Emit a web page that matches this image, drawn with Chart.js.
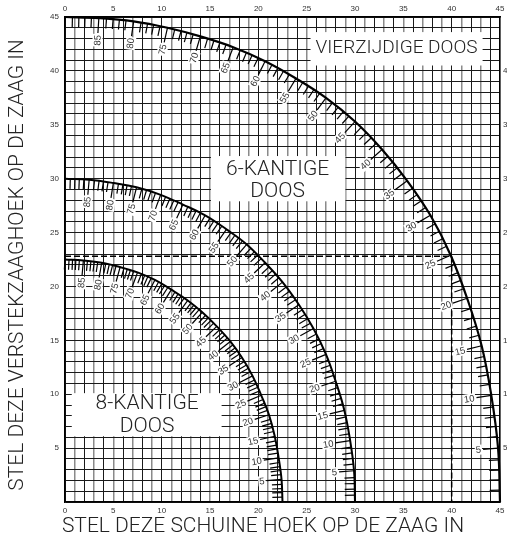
<!DOCTYPE html>
<html><head><meta charset="utf-8">
<script src="https://cdn.jsdelivr.net/npm/chart.js@4.4.1/dist/chart.umd.min.js"></script>
<style>html,body{margin:0;padding:0;background:#fff;overflow:hidden;} #wrap{width:520px;height:544px;position:relative;}</style>
</head><body><div id="wrap"><canvas id="c"></canvas></div>
<script>
// Slope angle of the box side at each marked point (labels along the arcs)
const SLOPE_ANGLES = [90,85,80,75,70,65,60,55,50,45,40,35,30,25,20,15,10,5,0];
// 4-sided box (VIERZIJDIGE DOOS): bevel (x) and miter (y) at each slope angle
const BEVEL_4 = [0,3.5,7.1,10.6,14.0,17.4,20.7,23.9,27.0,30.0,32.8,35.4,37.8,39.9,41.6,43.1,44.1,44.8,45];
const MITER_4 = [45,44.9,44.6,44.0,43.2,42.2,40.9,39.3,37.5,35.3,32.7,29.8,26.6,22.9,18.9,14.5,9.9,5.0,0];
// 6-sided box (6-KANTIGE DOOS)
const BEVEL_6 = [0,2.5,5.0,7.4,9.9,12.2,14.5,16.7,18.8,20.7,22.5,24.2,25.7,27.0,28.0,28.9,29.5,29.9,30];
const MITER_6 = [30,29.9,29.6,29.2,28.5,27.6,26.6,25.3,23.9,22.2,20.4,18.3,16.1,13.7,11.2,8.5,5.7,2.9,0];
// 8-sided box (8-KANTIGE DOOS)
const BEVEL_8 = [0,1.9,3.8,5.7,7.5,9.3,11.0,12.7,14.2,15.7,17.1,18.3,19.4,20.3,21.1,21.7,22.1,22.4,22.5];
const MITER_8 = [22.5,22.4,22.2,21.8,21.3,20.6,19.7,18.7,17.6,16.3,14.9,13.4,11.7,9.9,8.1,6.1,4.1,2.1,0];
// dashed example reading
const EXAMPLE_BEVEL = 40;
const EXAMPLE_MITER = 22.8;
// axis tick labels
const AXIS_LABELS = [0,5,10,15,20,25,30,35,40,45];
const Y_LEFT_LABELS = [5,10,15,20,25,30,35,40,45];
const Y_RIGHT_LABELS = [5,10,15,20,25,30,35,40];
const X_TITLE = 'STEL DEZE SCHUINE HOEK OP DE ZAAG IN';
const Y_TITLE = 'STEL DEZE VERSTEKZAAGHOEK OP DE ZAAG IN';

const FONT = '"Liberation Sans", Arial, Helvetica, sans-serif';
const BIG = 'Roboto, "Liberation Sans", Arial, sans-serif';
const toPts = (xs, ys) => xs.map((v, i) => ({x: v, y: ys[i]}));

const arcStyle = {showLine: true, pointRadius: 0, borderColor: '#000', borderWidth: 2, tension: 0.4, clip: false, fill: false};

const boxes = [
  {x0: 25.4, x1: 43.2, y0: 43.6, y1: 40.5, size: 19, lines: [['VIERZIJDIGE DOOS', 34.3, 42.1]]},
  {x0: 15.1, x1: 29.0, y0: 32.1, y1: 27.9, size: 21, lines: [['6-KANTIGE', 22.0, 30.8], ['DOOS', 22.0, 28.75]]},
  {x0: 0.7, x1: 16.2, y0: 10.1, y1: 6.1, size: 21, lines: [['8-KANTIGE', 8.5, 9.1], ['DOOS', 8.5, 6.95]]}
];

const decor = {
  id: 'decor',
  beforeDatasetsDraw(chart) {
    const ctx = chart.ctx, xs = chart.scales.x, ys = chart.scales.y;
    ctx.save();
    boxes.forEach(b => {
      const X0 = xs.getPixelForValue(b.x0), X1 = xs.getPixelForValue(b.x1);
      const Y0 = ys.getPixelForValue(b.y0), Y1 = ys.getPixelForValue(b.y1);
      ctx.fillStyle = '#fff';
      ctx.fillRect(X0, Y0, X1 - X0, Y1 - Y0);
      ctx.fillStyle = '#222';
      ctx.font = '300 ' + b.size + 'px ' + BIG;
      ctx.textAlign = 'center';
      ctx.textBaseline = 'middle';
      b.lines.forEach(l => ctx.fillText(l[0], xs.getPixelForValue(l[1]), ys.getPixelForValue(l[2])));
    });
    ctx.restore();
  },
  afterDatasetsDraw(chart) {
    const ctx = chart.ctx, xs = chart.scales.x, ys = chart.scales.y;
    const ox = xs.getPixelForValue(0), oy = ys.getPixelForValue(0);
    const bez = (a, b, c, d, t) => { const u = 1 - t; return u*u*u*a + 3*u*u*t*b + 3*u*t*t*c + t*t*t*d; };
    const dbez = (a, b, c, d, t) => { const u = 1 - t; return 3*u*u*(b-a) + 6*u*t*(c-b) + 3*t*t*(d-c); };
    const inward = (px, py, tx, ty) => {
      let nx = -ty, ny = tx; const L = Math.hypot(nx, ny) || 1; nx /= L; ny /= L;
      if (nx*(ox-px) + ny*(oy-py) < 0) { nx = -nx; ny = -ny; }
      return [nx, ny];
    };
    ctx.save();
    ctx.strokeStyle = '#000';
    ctx.lineWidth = 1.2;
    for (let di = 0; di < 3; di++) {
      const pts = chart.getDatasetMeta(di).data;
      const n = pts.length;
      for (let i = 0; i < n; i++) {
        const p = pts[i];
        let tx = p.cp2x - p.cp1x, ty = p.cp2y - p.cp1y;
        if (Math.hypot(tx, ty) < 1e-6) { tx = (i === 0 ? pts[1].x - p.x : p.x - pts[n-2].x); ty = (i === 0 ? pts[1].y - p.y : p.y - pts[n-2].y); }
        const [nx, ny] = inward(p.x, p.y, tx, ty);
        const labelled = SLOPE_ANGLES[i] !== 0 && SLOPE_ANGLES[i] !== 90;
        const len = labelled ? 15 : 10;
        ctx.beginPath(); ctx.moveTo(p.x, p.y); ctx.lineTo(p.x + nx*len, p.y + ny*len); ctx.stroke();
        if (labelled) {
          const ex = p.x + nx*(len + 1), ey = p.y + ny*(len + 1);
          ctx.save();
          ctx.translate(ex, ey);
          ctx.rotate(Math.atan2(-ny, -nx));
          ctx.font = '9.5px ' + FONT;
          const txt = String(SLOPE_ANGLES[i]);
          const w = ctx.measureText(txt).width;
          ctx.fillStyle = '#fff';
          ctx.fillRect(-w - 2, -5, w + 2, 10);
          ctx.fillStyle = '#333';
          ctx.textAlign = 'right'; ctx.textBaseline = 'middle';
          ctx.fillText(txt, -1, 0.5);
          ctx.restore();
        }
        if (i < n - 1) {
          const q = pts[i+1];
          for (let k = 1; k < 5; k++) {
            const t = k / 5;
            const bx = bez(p.x, p.cp2x, q.cp1x, q.x, t), by = bez(p.y, p.cp2y, q.cp1y, q.y, t);
            const dx = dbez(p.x, p.cp2x, q.cp1x, q.x, t), dy = dbez(p.y, p.cp2y, q.cp1y, q.y, t);
            const [mx, my] = inward(bx, by, dx, dy);
            ctx.beginPath(); ctx.moveTo(bx, by); ctx.lineTo(bx + mx*10, by + my*10); ctx.stroke();
          }
        }
      }
    }
    ctx.restore();
  },
  afterDraw(chart) {
    const ctx = chart.ctx;
    ctx.save();
    ctx.fillStyle = '#222';
    ctx.textAlign = 'center';
    ctx.textBaseline = 'middle';
    ctx.font = '300 21px ' + BIG;
    ctx.fillText(X_TITLE, 263, 527);
    ctx.translate(18, 265);
    ctx.rotate(-Math.PI / 2);
    ctx.fillText(Y_TITLE, 0, 0);
    ctx.restore();
  }
};

const tickCb = list => v => list.includes(v) ? String(v) : '';
const tickFont = {family: FONT, size: 8};

new Chart(document.getElementById('c'), {
  type: 'scatter',
  data: {
    datasets: [
      Object.assign({data: toPts(BEVEL_4, MITER_4)}, arcStyle, {borderWidth: 2.2}),
      Object.assign({data: toPts(BEVEL_6, MITER_6)}, arcStyle),
      Object.assign({data: toPts(BEVEL_8, MITER_8)}, arcStyle),
      {data: [{x: 0, y: EXAMPLE_MITER}, {x: EXAMPLE_BEVEL, y: EXAMPLE_MITER}, {x: EXAMPLE_BEVEL, y: 0}],
       showLine: true, pointRadius: 0, borderColor: '#000', borderWidth: 1.5, borderDash: [6, 3], tension: 0, clip: false}
    ]
  },
  options: {
    responsive: true, maintainAspectRatio: false, animation: false,
    layout: {padding: 0},
    plugins: {legend: {display: false}, tooltip: {enabled: false}},
    scales: {
      x: {type: 'linear', position: 'bottom', min: 0, max: 45,
        ticks: {stepSize: 1, autoSkip: false, maxRotation: 0, padding: 4, color: '#333', font: tickFont, callback: tickCb(AXIS_LABELS)},
        grid: {drawTicks: false, color: c => (c.index % 2 ? '#8a8a8a' : '#1a1a1a'), lineWidth: c => (c.index % 2 ? 1.5 : 1)},
        border: {display: true, color: '#000', width: 1.5},
        title: {display: false},
        afterFit: s => { s.height = 42; }
      },
      x2: {type: 'linear', position: 'top', axis: 'x', min: 0, max: 45,
        ticks: {stepSize: 1, autoSkip: false, maxRotation: 0, padding: 3, color: '#333', font: tickFont, callback: tickCb(AXIS_LABELS)},
        grid: {display: false, drawTicks: false},
        border: {display: true, color: '#000', width: 1.5},
        afterFit: s => { s.height = 17; }
      },
      y: {type: 'linear', position: 'left', min: 0, max: 45,
        ticks: {stepSize: 1, autoSkip: false, padding: 6, color: '#333', font: tickFont, callback: tickCb(Y_LEFT_LABELS)},
        grid: {drawTicks: false, color: '#1a1a1a', lineWidth: 1},
        border: {display: true, color: '#000', width: 1.5},
        title: {display: false},
        afterFit: s => { s.width = 65; }
      },
      y2: {type: 'linear', position: 'right', axis: 'y', min: 0, max: 45,
        ticks: {stepSize: 1, autoSkip: false, padding: 3, color: '#333', font: tickFont, callback: tickCb(Y_RIGHT_LABELS)},
        grid: {display: false, drawTicks: false},
        border: {display: true, color: '#000', width: 1.5},
        afterFit: s => { s.width = 20; }
      }
    }
  },
  plugins: [decor]
});
</script>
</body></html>
